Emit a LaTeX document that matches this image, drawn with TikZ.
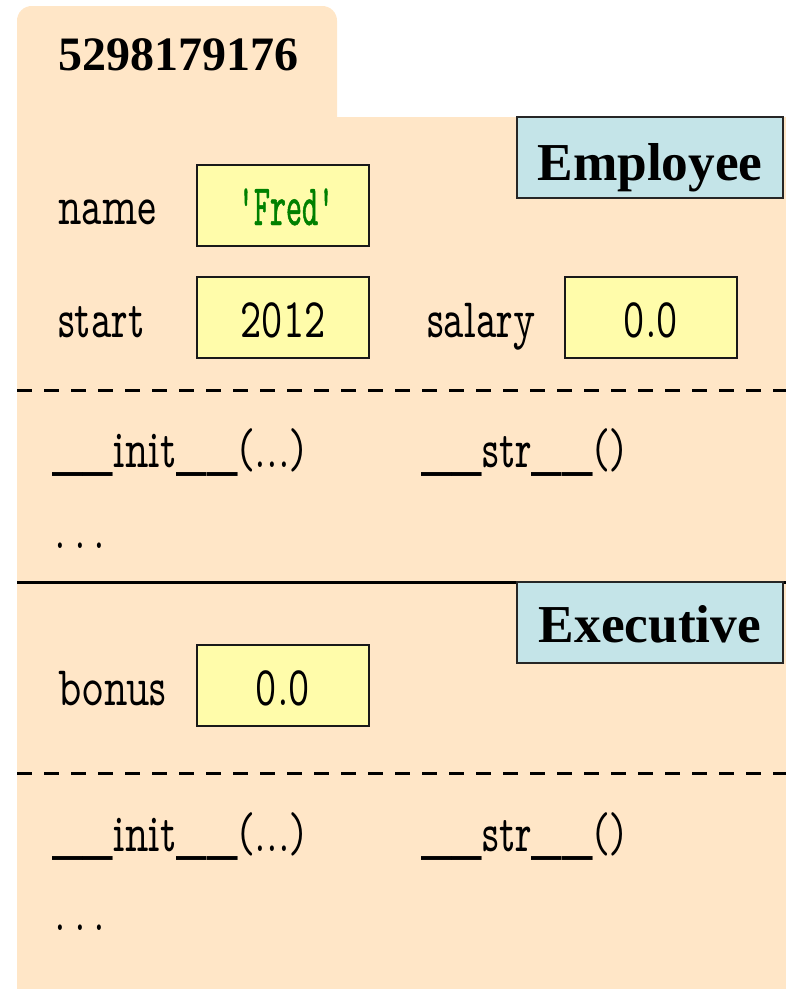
\documentclass[tikz,border=0pt]{standalone}
\usepackage{fontspec}
\setmainfont{Liberation Serif}
\newfontfamily\slabfont[FakeStretch=0.72]{lmmonoprop10-regular.otf}
\newfontfamily\typefont[FakeStretch=0.52,FakeBold=0.8]{lmmono10-regular.otf}
\definecolor{objfill}{RGB}{255,230,199}
\definecolor{valfill}{RGB}{255,252,170}
\definecolor{clsfill}{RGB}{196,228,232}
\definecolor{strgreen}{RGB}{0,128,0}
\tikzset{
  x=0.75pt, y=-0.75pt,
  hdr/.style={anchor=base west, inner sep=0pt, font=\bfseries\fontsize{36}{36}\selectfont},
  clsbox/.style={draw=black!85, line width=1.5pt, fill=clsfill, minimum width=199.5pt, minimum height=60.75pt, inner sep=0pt},
  clsname/.style={anchor=base, inner sep=0pt, font=\bfseries\fontsize{40}{40}\selectfont},
  valbox/.style={draw=black!90, line width=1.5pt, fill=valfill, minimum width=129pt, minimum height=60.75pt, inner sep=0pt},
  fieldname/.style={anchor=base west, inner sep=0pt, font=\slabfont\fontsize{42}{42}\selectfont},
  fieldval/.style={anchor=base, inner sep=0pt, font=\slabfont\fontsize{42}{42}\selectfont},
  strval/.style={anchor=base, inner sep=0pt, text=strgreen, font=\typefont\fontsize{44}{44}\selectfont},
  method/.style={anchor=base west, inner sep=0pt, font=\slabfont\fontsize{42}{42}\selectfont},
  divider/.style={line width=2.25pt, black},
  dashdivider/.style={divider, dash pattern=on 11.25pt off 9pt}
}
\begin{document}
\begin{tikzpicture}
\useasboundingbox (0,0) rectangle (786,989);
% object folder: tab and body
\fill[objfill, rounded corners=11pt] (17,6) rectangle (337,140);
\fill[objfill] (17,117) rectangle (786,989);
\node[hdr] (oid) at (58,70) {5298179176};

% Employee part
\node[clsbox] (empbox) at (650,157.5) {};
\node[clsname] (emp) at (650,180) {Employee};

\node[fieldname] (name) at (58,224) {name};
\node[valbox] (namebox) at (283,205.5) {};
\node[strval] (nameval) at (286,225) {'Fred'};

\node[fieldname] (start) at (58,337) {start};
\node[valbox] (startbox) at (283,317.5) {};
\node[fieldval] (startval) at (283,337) {2012};

\node[fieldname] (salary) at (427,337) {salary};
\node[valbox] (salarybox) at (651,317.5) {};
\node[fieldval] (salaryval) at (651,337) {0.0};

\coordinate (d1l) at (17,390);
\coordinate (d1r) at (786,390);
\draw[dashdivider] (d1l) -- (d1r);

\node[method] (init1) at (52,467) {\_\_init\_\_(...)};
\node[method] (str1) at (421,467) {\_\_str\_\_()};
\node[method] (more1) at (54,548) {.\kern6pt.\kern6pt.};

\coordinate (sl) at (17,582);
\coordinate (sr) at (786,582);
\draw[divider] (sl) -- (sr);

% Executive part
\node[clsbox] (exebox) at (650,622) {};
\node[clsname] (exe) at (650,642) {Executive};

\node[fieldname] (bonus) at (58,705) {bonus};
\node[valbox] (bonusbox) at (283,685.5) {};
\node[fieldval] (bonusval) at (283,705) {0.0};

\coordinate (d2l) at (17,773);
\coordinate (d2r) at (786,773);
\draw[dashdivider] (d2l) -- (d2r);

\node[method] (init2) at (52,851) {\_\_init\_\_(...)};
\node[method] (str2) at (421,851) {\_\_str\_\_()};
\node[method] (more2) at (54,930) {.\kern6pt.\kern6pt.};
\end{tikzpicture}
\end{document}
